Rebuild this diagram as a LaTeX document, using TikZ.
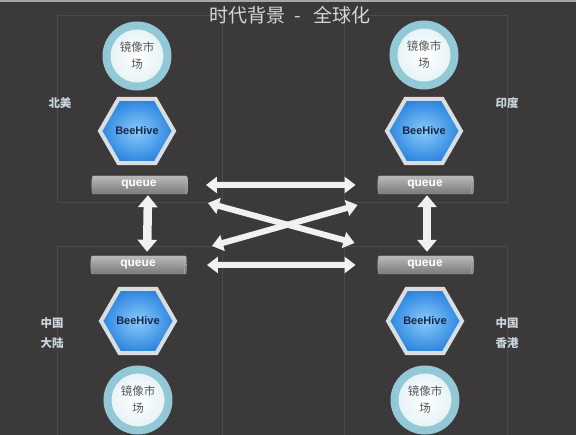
\documentclass[tikz,border=0pt]{standalone}
\usepackage{fontspec}
\setmainfont{Liberation Sans}
\newfontfamily\cjk{Noto Sans CJK SC}
\usetikzlibrary{arrows.meta,positioning,shapes.geometric}

\definecolor{bgdark}{HTML}{3B393A}
\definecolor{boxline}{HTML}{4C4A4C}
\definecolor{titlegray}{HTML}{D6D6D6}
\definecolor{labelgray}{HTML}{C9D5DB}
\definecolor{ringblue}{HTML}{93C8D6}
\definecolor{hexblue}{HTML}{2A84DE}
\definecolor{hexlight}{HTML}{8ACBFB}
\definecolor{hexrim}{HTML}{D9DEE3}
\definecolor{beetext}{HTML}{18284A}
\definecolor{arrowwhite}{HTML}{F2F0F2}

\tikzset{
  market/.style={circle, minimum size=61pt, inner sep=0pt, draw=ringblue, line width=8pt,
    inner color=white, outer color=ringblue!25, text=black!65, align=center,
    font=\cjk\fontsize{11.5pt}{17pt}\selectfont},
  hive/.style={regular polygon, regular polygon sides=6, minimum size=74pt, inner sep=0pt,
    draw=hexrim, line width=4pt, inner color=hexlight, outer color=hexblue, text=beetext,
    font=\bfseries\fontsize{11pt}{13pt}\selectfont},
  queue/.style={cylinder, shape border rotate=0, aspect=0.3, minimum width=18pt,
    minimum height=96pt, inner sep=0pt, draw=gray!60, line width=0.4pt,
    top color=gray!55, bottom color=gray!95!black, text=white,
    font=\bfseries\fontsize{12pt}{12pt}\selectfont},
  region/.style={text=labelgray, align=center, font=\cjk\bfseries\fontsize{11.5pt}{20pt}\selectfont},
  link/.style={draw=arrowwhite, line width=6pt,
    {Triangle[width=16pt,length=11pt]}-{Triangle[width=16pt,length=11pt]}},
  vlink/.style={draw=arrowwhite, line width=8.5pt,
    {Triangle[width=19pt,length=12pt]}-{Triangle[width=19pt,length=12pt]}}
}

\begin{document}
\begin{tikzpicture}[x=1pt,y=-1pt]
    \useasboundingbox (0,0) rectangle (576,435);
    \fill[bgdark] (0,0) rectangle (576,435);
    \fill[gray!70] (0,0) rectangle (576,2.5);
    % region boxes
    \draw[boxline] (57,15) rectangle (222,202);
    \draw[boxline] (344,15) rectangle (507,202);
    \draw[boxline] (57,435) -- (57,246) -- (222,246) -- (222,435);
    \draw[boxline] (344,435) -- (344,246) -- (507,246) -- (507,435);

    \node[text=titlegray, font=\cjk\fontsize{19pt}{19pt}\selectfont] (title) at (290,15)
        {时代背景\hspace{9pt}-\hspace{12pt}全球化};

    \node[market] (mNA) at (137,56) {镜像市\\场};
    \node[hive] (hNA) at ([shift={+(0,75)}]mNA) {BeeHive};
    \node[queue] (qNA) at ([shift={+(2,129)}]mNA) {queue};

    \node[market] (mIN) at (424,55) {镜像市\\场};
    \node[hive] (hIN) at ([shift={+(0,76)}]mIN) {BeeHive};
    \node[queue] (qIN) at ([shift={+(1,130)}]mIN) {queue};

    \node[queue] (qCN) at (138,265) {queue};
    \node[hive] (hCN) at ([shift={+(0,56)}]qCN) {BeeHive};
    \node[market] (mCN) at ([shift={+(0,135)}]qCN) {镜像市\\场};

    \node[queue] (qHK) at (425,265) {queue};
    \node[hive] (hHK) at ([shift={+(0,56)}]qHK) {BeeHive};
    \node[market] (mHK) at ([shift={+(0,135)}]qHK) {镜像市\\场};

    \node[region] (lNA) at (60,103) {北美};
    \node[region] (lIN) at (507,103) {印度};
    \node[region] (lCN) at (52,333) {中国\\大陆};
    \node[region] (lHK) at (507,333) {中国\\香港};

    \draw[link, shorten <=18pt, shorten >=22pt] (qNA.east) -- (qIN.west);
    \draw[link, shorten <=20pt, shorten >=22pt] (qCN.east) -- (qHK.west);
    \draw[link] ([shift={(20,18)}]qNA.east) -- ([shift={(-23,-22)}]qHK.west);
    \draw[link] ([shift={(25,-19)}]qCN.east) -- ([shift={(-20,20)}]qIN.west);
    \draw[vlink, shorten <=1pt, shorten >=4pt] ([xshift=9pt]qNA.south) -- ([xshift=9pt]qCN.north);
    \draw[vlink, shorten <=1pt, shorten >=4pt] ([xshift=2pt]qIN.south) -- ([xshift=2pt]qHK.north);
\end{tikzpicture}
\end{document}
